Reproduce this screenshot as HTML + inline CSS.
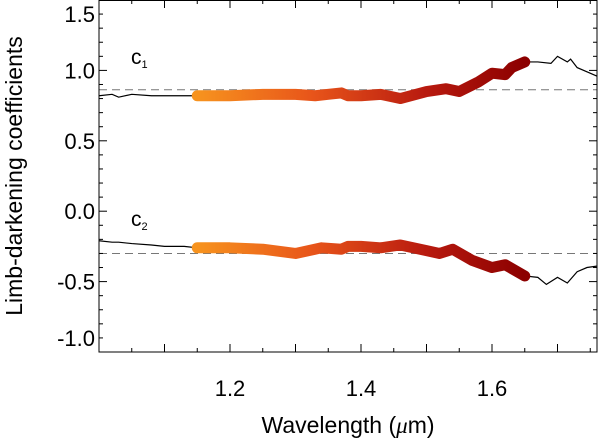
<!DOCTYPE html>
<html><head><meta charset="utf-8">
<style>
html,body{margin:0;padding:0;background:#fff;}
svg{display:block;font-family:"Liberation Sans",Arial,sans-serif;}
</style></head>
<body>
<svg id="chart" width="600" height="441" viewBox="0 0 600 441">
<defs>
<linearGradient id="grad" gradientUnits="userSpaceOnUse" x1="197" y1="0" x2="524" y2="0">
<stop offset="0" stop-color="#f7931e"/>
<stop offset="0.35" stop-color="#e8551a"/>
<stop offset="0.7" stop-color="#b81a0f"/>
<stop offset="1" stop-color="#8c0000"/>
</linearGradient>
</defs>
<g id="plot"></g>
<text x="348" y="433" font-size="23" text-anchor="middle">Wavelength (<tspan font-family="Liberation Serif" font-style="italic">μ</tspan>m)</text>
<text transform="translate(22,176) rotate(-90)" font-size="23" text-anchor="middle">Limb-darkening coefficients</text>
<text x="131" y="64" font-size="21">c<tspan font-size="11" dy="4">1</tspan></text>
<text x="131" y="226" font-size="21">c<tspan font-size="11" dy="4">2</tspan></text>
</svg>
<script>
const xTicks=[1.2,1.4,1.6];
const yTicks=[1.5,1.0,0.5,0.0,-0.5,-1.0];
const yTickLabels=["1.5","1.0","0.5","0.0","-0.5","-1.0"];
const refC1=0.863, refC2=-0.30, fitStart=1.15, fitEnd=1.65;
const c1Wave=[1.0,1.02,1.03,1.05,1.08,1.1,1.13,1.15,1.2,1.25,1.3,1.33,1.35,1.37,1.38,1.4,1.43,1.46,1.5,1.53,1.55,1.58,1.6,1.62,1.63,1.65,1.67,1.69,1.70,1.715,1.72,1.73,1.745,1.76];
const c1Vals=[0.82,0.83,0.81,0.83,0.82,0.82,0.82,0.82,0.82,0.83,0.83,0.82,0.83,0.84,0.82,0.82,0.83,0.80,0.85,0.87,0.85,0.92,0.98,0.97,1.02,1.06,1.06,1.05,1.10,1.06,1.08,1.02,0.99,0.96];
const c2Wave=[1.0,1.02,1.03,1.05,1.08,1.1,1.13,1.15,1.2,1.25,1.3,1.34,1.37,1.38,1.4,1.43,1.46,1.5,1.52,1.54,1.57,1.6,1.62,1.65,1.67,1.683,1.70,1.715,1.73,1.745,1.76];
const c2Vals=[-0.21,-0.22,-0.22,-0.23,-0.24,-0.25,-0.25,-0.26,-0.26,-0.27,-0.30,-0.26,-0.27,-0.25,-0.25,-0.26,-0.24,-0.28,-0.30,-0.27,-0.35,-0.40,-0.38,-0.46,-0.47,-0.52,-0.47,-0.51,-0.43,-0.40,-0.39];

const L=99,R=597,T=0,B=352,x0=1.0,x1=1.7603,y0=-1.0,y1=1.5;
const X=v=>L+(v-x0)/(x1-x0)*(R-L);
const Y=v=>B-(v-y0)/(y1-y0)*(B-T);
const NS="http://www.w3.org/2000/svg";
const g=document.getElementById('plot');
function mk(tag,attrs,parent){const e=document.createElementNS(NS,tag);for(const k in attrs)e.setAttribute(k,attrs[k]);(parent||g).appendChild(e);return e;}

let d1=mk('line',{x1:L,x2:R,y1:Y(refC1),y2:Y(refC1),stroke:'#777','stroke-width':1,'stroke-dasharray':'8,5'});


let d2=mk('line',{x1:L,x2:R,y1:Y(refC2),y2:Y(refC2),stroke:'#777','stroke-width':1,'stroke-dasharray':'8,5'});



function drawSeries(w,v,name){
  const all=w.map((a,i)=>X(a)+','+Y(v[i])).join(' ');
  const thin=mk('polyline',{points:all,fill:'none',stroke:'#000','stroke-width':1.2});
  
  
  const fit=w.map((a,i)=>[a,v[i]]).filter(p=>p[0]>=fitStart&&p[0]<=fitEnd).map(p=>X(p[0])+','+Y(p[1])).join(' ');
  const thick=mk('polyline',{points:fit,fill:'none',stroke:'url(#grad)','stroke-width':11,'stroke-linecap':'round','stroke-linejoin':'round'});
  
  
}
drawSeries(c1Wave,c1Vals,'c1');
drawSeries(c2Wave,c2Vals,'c2');

const fr=mk('rect',{x:L,y:T+0.5,width:R-L,height:B-T-0.5,fill:'none',stroke:'#000','stroke-width':1});



for(let k=0;k<=15;k++){const v=1.0+k*0.05;if(v>x1)break;const px=X(v);const len=(Math.round(v*100)%10===0)?8:4;
  mk('line',{x1:px,x2:px,y1:B,y2:B-len,stroke:'#000','stroke-width':1});
  mk('line',{x1:px,x2:px,y1:T,y2:T+len,stroke:'#000','stroke-width':1});}
xTicks.forEach(v=>{const t=mk('text',{x:X(v),y:396,'font-size':22,'text-anchor':'middle'});t.textContent=v.toFixed(1);
  
  });
for(let k=-10;k<=15;k++){const v=k/10;const py=Y(v);const len=(k%5===0)?8:4;
  mk('line',{x1:L,x2:L+len,y1:py,y2:py,stroke:'#000','stroke-width':1});
  mk('line',{x1:R,x2:R-len,y1:py,y2:py,stroke:'#000','stroke-width':1});}
yTicks.forEach((v,i)=>{let py=Y(v);py=Math.min(Math.max(py,14),338);const t=mk('text',{x:95,y:py+8,'font-size':22,'text-anchor':'end'});t.textContent=yTickLabels[i];
  
  });
</script>
</body></html>
